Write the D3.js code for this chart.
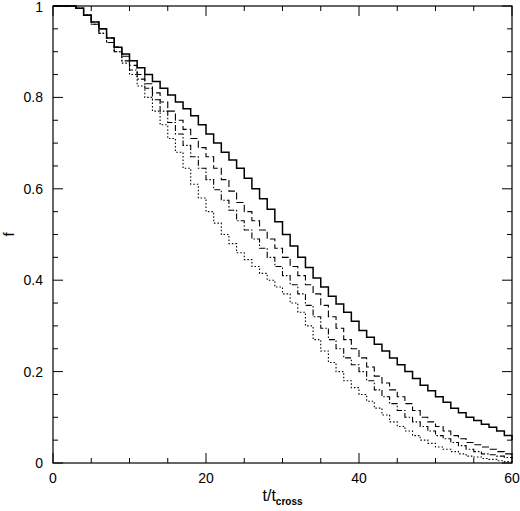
<!DOCTYPE html><html><head><script src="https://cdn.jsdelivr.net/npm/d3@7"></script>
<style>body{margin:0;background:#fff}</style></head><body><svg width="520" height="511"></svg>
<script>
const tValues=d3.range(0,61);
const solid=[1,1,1,0.995,0.98,0.965,0.95,0.93,0.91,0.895,0.88,0.865,0.85,0.835,0.82,0.805,0.79,0.775,0.76,0.74,0.72,0.70,0.68,0.663,0.645,0.623,0.6,0.578,0.555,0.528,0.5,0.475,0.45,0.428,0.405,0.385,0.365,0.348,0.33,0.31,0.29,0.275,0.26,0.245,0.23,0.215,0.2,0.185,0.17,0.158,0.145,0.133,0.12,0.11,0.1,0.093,0.085,0.078,0.07,0.06,0.05];
const longDash=[1,1,1,0.995,0.98,0.965,0.95,0.93,0.91,0.89,0.87,0.85,0.83,0.81,0.79,0.77,0.75,0.73,0.71,0.69,0.67,0.645,0.62,0.595,0.57,0.55,0.53,0.51,0.49,0.47,0.45,0.43,0.41,0.39,0.37,0.345,0.32,0.295,0.27,0.25,0.23,0.21,0.19,0.175,0.16,0.145,0.13,0.115,0.1,0.09,0.08,0.07,0.06,0.053,0.045,0.04,0.035,0.03,0.025,0.02,0.015];
const dashDot=[1,1,1,0.995,0.98,0.96,0.94,0.92,0.9,0.88,0.86,0.84,0.82,0.795,0.77,0.745,0.72,0.695,0.67,0.645,0.62,0.598,0.575,0.553,0.53,0.51,0.49,0.47,0.45,0.43,0.41,0.39,0.37,0.345,0.32,0.295,0.27,0.25,0.23,0.215,0.2,0.18,0.16,0.145,0.13,0.115,0.1,0.09,0.08,0.07,0.06,0.053,0.045,0.038,0.03,0.025,0.02,0.018,0.015,0.012,0.01];
const dotted=[1,1,1,0.995,0.98,0.96,0.94,0.92,0.9,0.875,0.85,0.825,0.8,0.77,0.74,0.71,0.68,0.645,0.61,0.58,0.55,0.525,0.5,0.48,0.46,0.445,0.43,0.415,0.4,0.385,0.37,0.35,0.33,0.3,0.27,0.245,0.22,0.2,0.18,0.165,0.15,0.135,0.12,0.105,0.09,0.08,0.07,0.06,0.05,0.043,0.035,0.03,0.025,0.02,0.015,0.013,0.01,0.008,0.005,0.003,0];
const series=[{v:solid,d:null},{v:longDash,d:"7,3"},{v:dashDot,d:"6,2,1.5,2"},{v:dotted,d:"1.5,2"}];
const svg=d3.select("svg");
const L=53,R=512,T=6,B=463;
const x=d3.scaleLinear().domain([0,60]).range([L,R]);
const y=d3.scaleLinear().domain([0,1]).range([B,T]);
svg.append("rect").attr("x",L).attr("y",T).attr("width",R-L).attr("height",B-T).attr("fill","none").attr("stroke","#000").attr("stroke-width",1.2);
const g=svg.append("g");
d3.range(0,61,5).forEach(t=>{const len=t%20===0?10:5;
 g.append("line").attr("x1",x(t)).attr("x2",x(t)).attr("y1",B).attr("y2",B-len).attr("stroke","#000");
 g.append("line").attr("x1",x(t)).attr("x2",x(t)).attr("y1",T).attr("y2",T+len).attr("stroke","#000");});
d3.range(0,21).forEach(i=>{const f=i*0.05,len=i%4===0?10:5;
 g.append("line").attr("x1",L).attr("x2",L+len).attr("y1",y(f)).attr("y2",y(f)).attr("stroke","#000");
 g.append("line").attr("x1",R).attr("x2",R-len).attr("y1",y(f)).attr("y2",y(f)).attr("stroke","#000");});
const font="Liberation Sans, Arial, sans-serif";
[0,20,40,60].forEach(t=>svg.append("text").attr("x",x(t)).attr("y",B+20).attr("text-anchor","middle").attr("font-family",font).attr("font-size",14).text(t));
[0,0.2,0.4,0.6,0.8,1].forEach(f=>svg.append("text").attr("x",L-10).attr("y",Math.max(y(f)+5,12)).attr("text-anchor","end").attr("font-family",font).attr("font-size",14).text(f===0?"0":f===1?"1":f.toFixed(1)));
const xl=svg.append("text").attr("x",x(30)).attr("y",B+38).attr("text-anchor","middle").attr("font-family",font).attr("font-size",16);
xl.append("tspan").text("t/t");xl.append("tspan").attr("font-size",10).attr("font-weight","bold").attr("dy",4).text("cross");
svg.append("text").attr("x",14).attr("y",y(0.5)).attr("text-anchor","middle").attr("font-family",font).attr("font-size",15).attr("transform",`rotate(-90,14,${y(0.5)})`).text("f");
const line=d3.line().x((d,i)=>x(tValues[i])).y(d=>y(d)).curve(d3.curveStepAfter);
series.forEach(s=>svg.append("path").attr("d",line(s.v)).attr("fill","none").attr("stroke","#000").attr("stroke-width",s.d?1.1:1.5).attr("stroke-dasharray",s.d));
</script></body></html>
